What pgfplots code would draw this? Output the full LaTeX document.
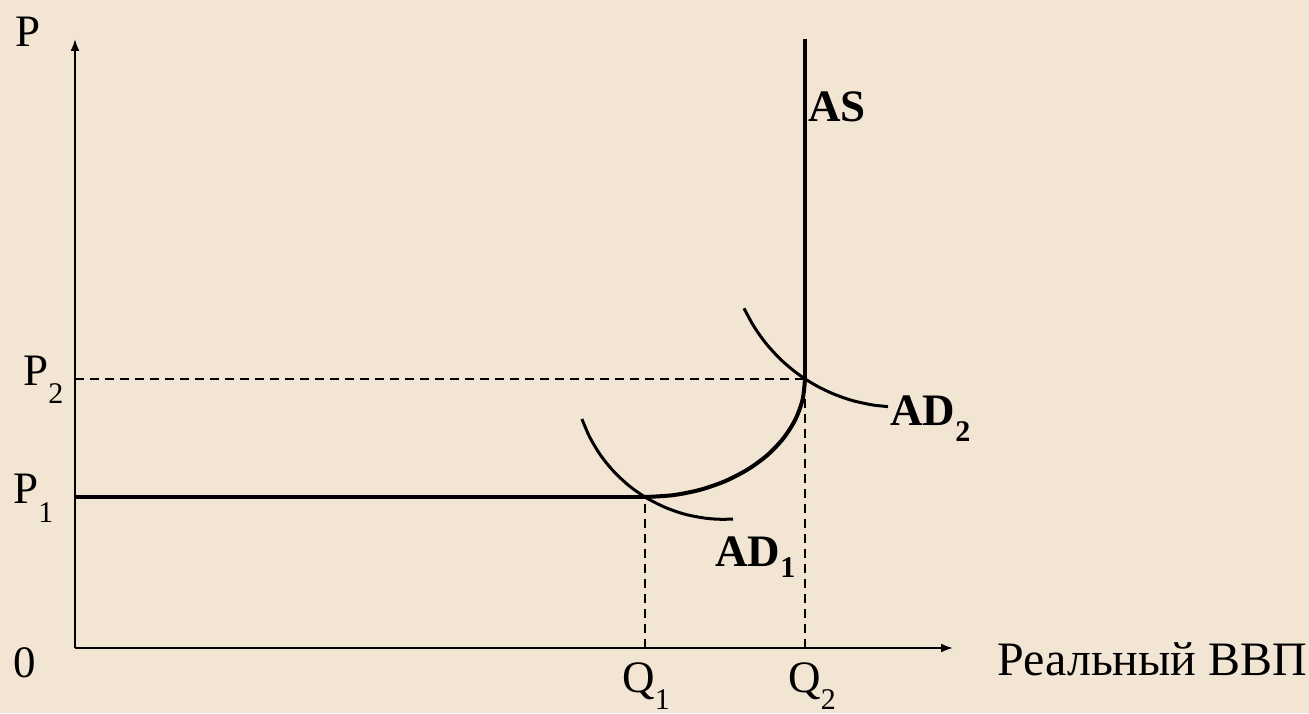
\documentclass[border=0pt]{standalone}
\usepackage{fontspec}
\setmainfont{Liberation Serif}
\usepackage{pgfplots}
\pgfplotsset{compat=1.18}
\usetikzlibrary{arrows.meta}

\definecolor{paper}{RGB}{243,229,212}
\newcommand\sub[2][-9pt]{\raisebox{#1}{\fontsize{15}{15}\selectfont #2}}

% 1 px of the reference = 0.5pt; axis units are px, origin at the axes' corner
\begin{document}
\begin{tikzpicture}[lbl/.style={font=\fontsize{22.5}{27}\selectfont, inner sep=0pt, anchor=base west}]
\fill[paper] (0,0) rectangle (654.5pt,356.5pt);
\useasboundingbox (0,0) rectangle (654.5pt,356.5pt);
\begin{axis}[
  at={(37.5pt,32.5pt)}, anchor=south west,
  scale only axis, width=439pt, height=304.5pt,
  xmin=0, xmax=878, ymin=0, ymax=609,
  axis lines=left,
  axis line style={line width=1pt, -{Latex[length=6pt,width=4.5pt]}},
  xtick=\empty, ytick=\empty,
  clip=false,
  guide/.style={black, line width=1.2pt, dash pattern=on 4.5pt off 3pt},
]
% guide lines
\addplot[guide] coordinates {(0,269) (730,269)};
\addplot[guide] coordinates {(570,0) (570,151)};
\addplot[guide] coordinates {(730,0) (730,269)};

% AS
\addplot[black, line width=2pt] coordinates {(0,151) (570,151)};
\addplot[black, line width=2pt, smooth] coordinates {
  (570,151) (597.8,152.8) (624.7,158.1) (650,166.8) (672.8,178.6)
  (692.6,193.1) (708.6,210) (720.4,228.6) (727.6,248.5) (730,269)};
\addplot[black, line width=2pt] coordinates {(730,269) (730,609)};

% AD1
\addplot[black, line width=1.5pt, smooth] coordinates {
  (506.9,229.0) (514.7,210.9) (525.5,192.9) (538.7,176.6) (554.1,162.2)
  (571.3,150.2) (590.0,140.7) (609.8,133.8) (630.5,129.8) (646.2,128.7)
  (658.0,129.0)};
% AD2
\addplot[black, line width=1.5pt, smooth] coordinates {
  (669.0,339.7) (679.0,321.4) (691.1,304.4) (705.2,289.0) (721.1,275.4)
  (738.5,263.9) (757.2,254.6) (776.9,247.6) (797.3,243.1) (813.0,241.4)};

% labels
\node[lbl] at (axis cs:-60,601) {P};
\node[lbl] at (axis cs:-62,-29) {0};
\node[lbl] at (axis cs:-52,263) {P\sub{2}};
\node[lbl] at (axis cs:-62,145) {P\sub[-9.5pt]{1}};
\node[lbl] at (axis cs:547,-44) {Q\sub[-8.5pt]{1}};
\node[lbl] at (axis cs:713,-44) {Q\sub[-8.5pt]{2}};
\node[lbl] at (axis cs:733,526) {\bfseries AS};
\node[lbl] at (axis cs:815,223) {\bfseries AD\sub[-8pt]{2}};
\node[lbl] at (axis cs:640,82) {\bfseries AD\sub[-5.5pt]{1}};
\node[lbl, font=\fontsize{24}{28}\selectfont] at (axis cs:922,-27) {Реальный ВВП};
\end{axis}
\end{tikzpicture}
\end{document}
